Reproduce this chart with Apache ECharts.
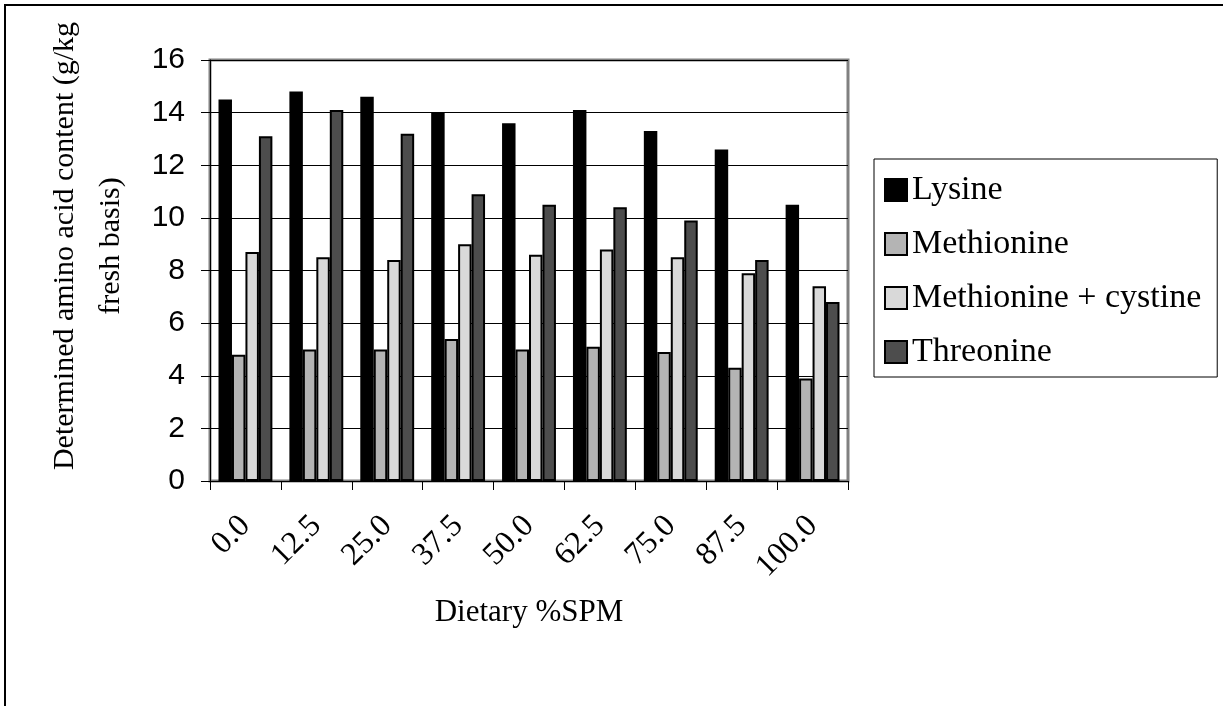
<!DOCTYPE html>
<html>
<head>
<meta charset="utf-8">
<script src="https://cdn.jsdelivr.net/npm/echarts@6/dist/echarts.min.js"></script>
<style>
  html, body { margin: 0; padding: 0; background: #fff; }
  #main { width: 1223px; height: 706px; }
</style>
</head>
<body>
<div id="main"></div>
<script>
// data
var categories = ['0.0', '12.5', '25.0', '37.5', '50.0', '62.5', '75.0', '87.5', '100.0'];
var lysine = [14.5, 14.8, 14.6, 14.0, 13.6, 14.1, 13.3, 12.6, 10.5];
var methionine = [4.8, 5.0, 5.0, 5.4, 5.0, 5.1, 4.9, 4.3, 3.9];
var metCys = [8.7, 8.5, 8.4, 9.0, 8.6, 8.8, 8.5, 7.9, 7.4];
var threonine = [13.1, 14.1, 13.2, 10.9, 10.5, 10.4, 9.9, 8.4, 6.8];

var serif = '"Liberation Serif", "Times New Roman", serif';
var sans = '"Liberation Sans", Arial, sans-serif';

function barSeries(name, data, color) {
  return {
    name: name,
    type: 'bar',
    data: data,
    barGap: '0%',
    barCategoryGap: '24%',
    itemStyle: { color: color, borderColor: '#000', borderWidth: 2 }
  };
}

var myChart = echarts.init(document.getElementById('main'));
myChart.setOption({
  animation: false,
  backgroundColor: '#fff',
  grid: {
    left: 210, right: 375, top: 60, bottom: 225,
    show: true, borderColor: '#808080', borderWidth: 3
  },
  legend: {
    orient: 'vertical',
    left: 874, top: 159,
    padding: [13, 16, 7, 10],
    borderColor: '#000', borderWidth: 1,
    icon: 'rect',
    itemWidth: 22, itemHeight: 22, itemGap: 18,
    itemStyle: { borderColor: '#000', borderWidth: 2 },
    textStyle: { fontFamily: serif, fontSize: 34, color: '#000', lineHeight: 36 },
    data: ['Lysine', 'Methionine', 'Methionine + cystine', 'Threonine']
  },
  xAxis: {
    type: 'category',
    data: categories,
    name: 'Dietary %SPM',
    nameLocation: 'middle',
    nameGap: 116,
    nameTextStyle: { fontFamily: serif, fontSize: 31, color: '#000' },
    axisLine: { lineStyle: { color: '#000', width: 1 } },
    axisTick: { show: true, length: 9, lineStyle: { color: '#000' } },
    axisLabel: { rotate: 45, margin: 40, fontFamily: serif, fontSize: 32, color: '#000' }
  },
  yAxis: {
    type: 'value',
    min: 0, max: 16, interval: 2,
    axisLine: { show: true, lineStyle: { color: '#000', width: 1 } },
    axisTick: { show: true, length: 9, lineStyle: { color: '#000' } },
    axisLabel: { margin: 25, fontFamily: sans, fontSize: 30, color: '#000' },
    splitLine: { lineStyle: { color: '#000', width: 1 } }
  },
  graphic: [
    {
      type: 'rect',
      shape: { x: 5, y: 5, width: 1240, height: 720 },
      style: { fill: null, stroke: '#000', lineWidth: 2 },
      silent: true
    },
    {
      type: 'text',
      x: 88, y: 246,
      rotation: Math.PI / 2,
      style: {
        text: 'Determined amino acid content (g/kg\nfresh basis)',
        font: '30px ' + serif,
        fill: '#000',
        align: 'center',
        verticalAlign: 'middle',
        lineHeight: 46
      }
    }
  ],
  series: [
    barSeries('Lysine', lysine, '#000000'),
    barSeries('Methionine', methionine, '#b4b4b4'),
    barSeries('Methionine + cystine', metCys, '#d9d9d9'),
    barSeries('Threonine', threonine, '#4d4d4d')
  ]
});
</script>
</body>
</html>
